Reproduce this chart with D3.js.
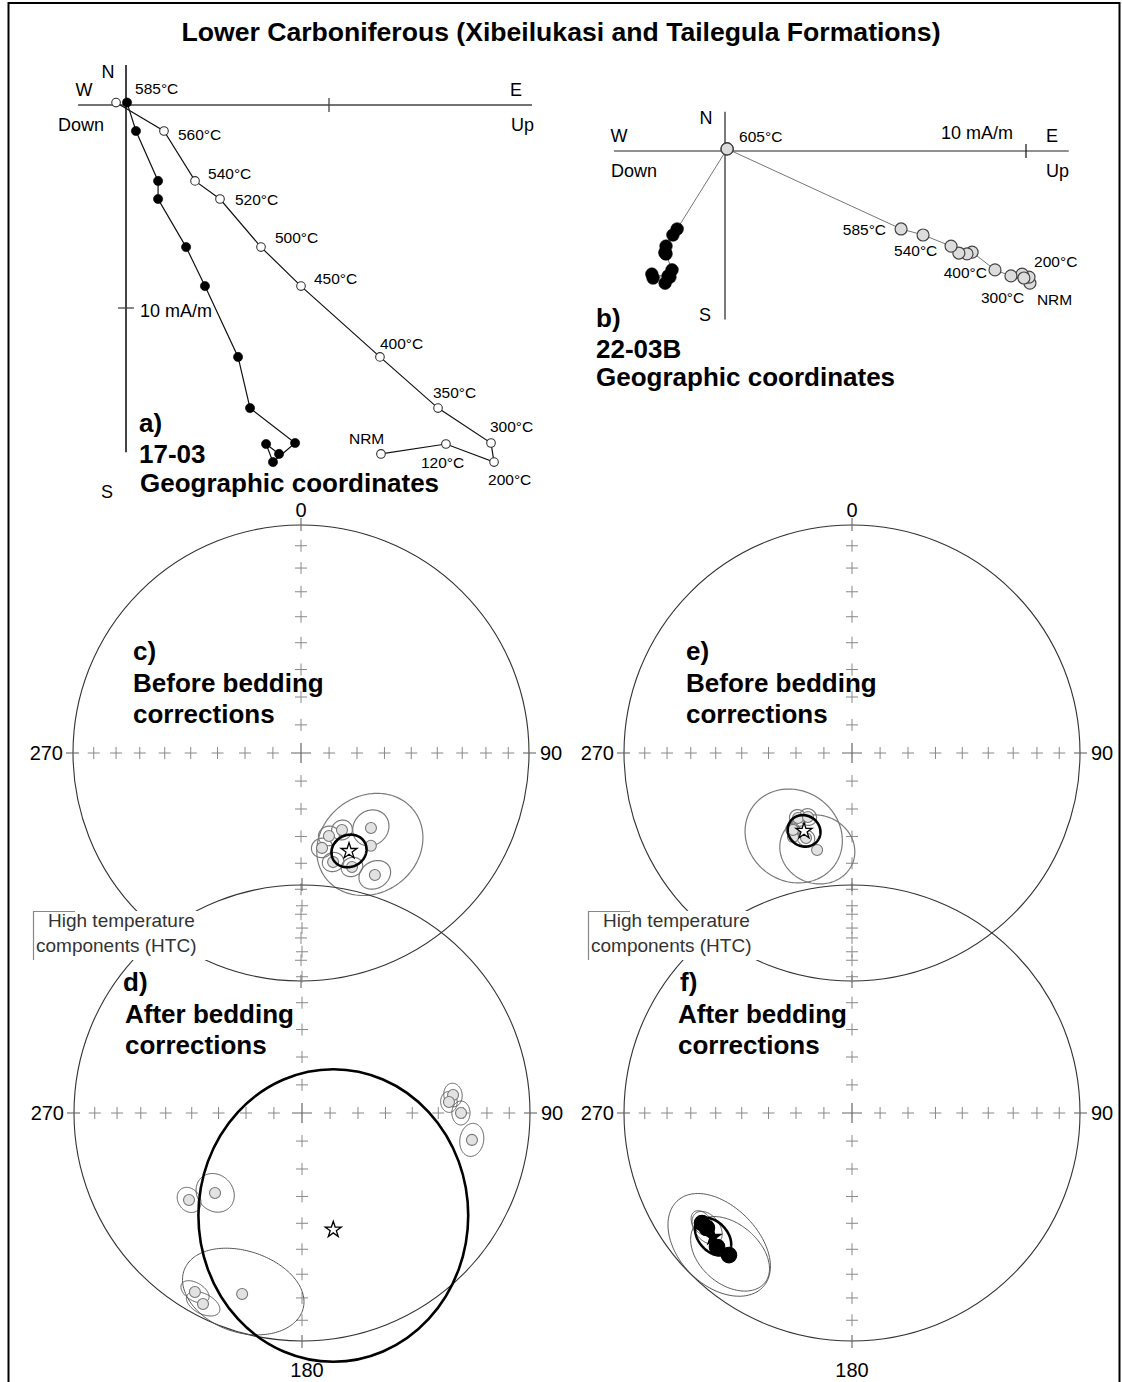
<!DOCTYPE html>
<html><head><meta charset="utf-8">
<script src="https://cdn.jsdelivr.net/npm/d3@7/dist/d3.min.js"></script>
<style>html,body{margin:0;padding:0;background:#fff}svg{display:block}</style>
</head><body>
<svg id="fig" width="1122" height="1382" xmlns="http://www.w3.org/2000/svg"></svg>
<script>
// ================= DATA =================
const titleText = "Lower Carboniferous (Xibeilukasi and Tailegula Formations)";

// Panel a: sample 17-03, thermal demagnetisation (mA/m)
const aSteps = ["NRM","120°C","200°C","300°C","350°C","400°C","450°C","500°C","520°C","540°C","560°C","585°C"];
const aNorth = [-17.19,-16.70,-17.59,-16.65,-14.93,-12.41,-8.92,-7.00,-4.63,-3.74,-1.28,0.12];
const aEast  = [7.54,6.90,7.24,8.33,6.11,5.52,3.89,2.96,1.58,1.58,0.49,0.05];
const aUp    = [12.56,15.76,18.13,17.98,15.37,12.51,8.62,6.65,4.63,3.40,1.87,-0.49];

// Panel b: sample 22-03B (mA/m)
const bSteps  = ["NRM","120°C","200°C","250°C","300°C","400°C","450°C","480°C","500°C","520°C","540°C","585°C","605°C"];
const bLabels = ["NRM","","200°C","","300°C","400°C","","","","","540°C","585°C","605°C"];
const bNorth = [-4.39,-4.19,-4.09,-4.22,-4.15,-3.95,-3.36,-3.42,-3.39,-3.16,-2.79,-2.59,0.07];
const bEast  = [-1.99,-1.83,-2.43,-2.39,-1.89,-1.76,-1.99,-1.96,-1.99,-1.96,-1.73,-1.59,0.07];
const bUp    = [10.13,10.10,9.87,9.93,9.50,8.97,8.21,8.04,7.77,7.51,6.58,5.85,0.07];

// Stereonets: site-mean directions (Dec, Inc) and alpha95 (negative Inc = upper hemisphere, open symbol)
const cDec = [137.0,148.8,161.4,152.0,167.5,163.6,155.9,143.0];
const cInc = [-52.9,-37.5,-58.5,-58.6,-54.9,-48.7,-44.4,-47.8];
const cA95 = [6.4,5.3,3.6,3.6,3.6,3.6,3.6,18.5];
const cMean = [153.9,-50.4,6.0];          // Dec, Inc, a95

const dDec = [83.2,85.7,90.0,99.0,232.4,227.4,198.3,210.9,207.4];
const dInc = [-33.7,-35.6,-30.9,-25.5,-37.5,-47.0,-17.5,-9.4,-6.3];
const dA95 = [3.7,3.3,3.7,5.0,4.3,6.8,18.0,4.2,4.8];
const dMean = [165.0,-46.0,45.0,59.0];    // Dec, Inc, cone semi-axes (across, along meridian)

const eDec = [215.1,199.8,219.7,214.5,217.5,208.4];
const eInc = [-52.9,-52.7,-59.6,-62.1,-55.0,-55.1];
const eA95 = [17.0,12.8,3.0,3.0,2.5,3.0];
const eMean = [211.6,-57.0,5.7];

const fDec = [233.7,231.6,225.2,220.9];
const fInc = [19.5,19.9,17.7,18.7];
const fA95 = [4.0,5.4,17.5,13.1];
const fMean = [228.3,19.4,6.3];

const netTickIncs = [10,20,30,40,50,60,70,80];
const netTickDecs = [0,90,180,270];

// ================= LAYOUT / STYLE =================
const FONT = "'Liberation Sans', Arial, Helvetica, sans-serif";
const svg = d3.select("#fig").attr("font-family", FONT);
svg.append("rect").attr("width",1122).attr("height",1382).attr("fill","#fff");

svg.append("path").attr("d","M8.5,1382 L8.5,3 L1119.5,3 L1119.5,1382").attr("fill","none").attr("stroke","#000").attr("stroke-width",2);

svg.append("text").attr("x",561).attr("y",41).attr("text-anchor","middle")
  .attr("font-weight","bold").attr("font-size",26.6).text(titleText);

function txt(g, x, y, s, size, opt={}) {
  return g.append("text").attr("x",x).attr("y",y).attr("font-size",size)
    .attr("text-anchor",opt.anchor||"start").attr("font-weight",opt.bold?"bold":"normal")
    .attr("fill",opt.fill||"#000").text(s);
}

// ---------- Zijderveld diagrams ----------
function zijderveld(cfg, north, east, up, labels, offs) {
  const g = svg.append("g");
  const x = d3.scaleLinear().domain([0,10]).range([cfg.ox, cfg.ox + cfg.px10]);
  const y = d3.scaleLinear().domain([0,-10]).range([cfg.oy, cfg.oy + cfg.px10]);
  g.append("line").attr("x1",x(cfg.xExt[0])).attr("x2",x(cfg.xExt[1])).attr("y1",y(0)).attr("y2",y(0))
    .attr("stroke",cfg.axisColor).attr("stroke-width",cfg.hAxisW);
  g.append("line").attr("x1",x(0)).attr("x2",x(0)).attr("y1",y(cfg.yExt[0])).attr("y2",y(cfg.yExt[1]))
    .attr("stroke",cfg.axisColor).attr("stroke-width",cfg.vAxisW);
  cfg.xTicks.forEach(v => g.append("line").attr("x1",x(v)).attr("x2",x(v)).attr("y1",y(0)-7).attr("y2",y(0)+7)
    .attr("stroke",cfg.axisColor).attr("stroke-width",1.3));
  cfg.yTicks.forEach(v => g.append("line").attr("x1",x(0)-8).attr("x2",x(0)+8).attr("y1",y(v)).attr("y2",y(v))
    .attr("stroke",cfg.axisColor).attr("stroke-width",1.3));
  const idx = d3.range(north.length);
  const lineH = d3.line().x(i=>x(east[i])).y(i=>y(north[i]));
  const lineV = d3.line().x(i=>x(up[i])).y(i=>y(north[i]));
  g.append("path").attr("d",lineH(idx)).attr("fill","none").attr("stroke",cfg.lineColor).attr("stroke-width",cfg.lineW);
  g.append("path").attr("d",lineV(idx)).attr("fill","none").attr("stroke",cfg.lineColor).attr("stroke-width",cfg.lineW);
  idx.forEach(i => g.append("circle").attr("cx",x(east[i])).attr("cy",y(north[i])).attr("r",cfg.rFill)
    .attr("fill","#000").attr("stroke","#000").attr("stroke-width",0.6));
  idx.forEach(i => g.append("circle").attr("cx",x(up[i])).attr("cy",y(north[i])).attr("r",cfg.rOpen)
    .attr("fill",cfg.openFill).attr("stroke",cfg.openStroke).attr("stroke-width",cfg.openW));
  idx.forEach(i => {
    if (!labels[i] || !offs[i]) return;
    txt(g, x(up[i])+offs[i][0], y(north[i])+offs[i][1]+cfg.fs*0.36, labels[i], cfg.fs, {anchor:offs[i][2]||"start"});
  });
  return g;
}

// label offsets (px) relative to the open (vertical-projection) symbol
const aLabelOffsets = [[-32,-16],[-25,18],[-6,17],[-1,-17],[-5,-16],[0,-14],[13,-8],[14,-10],[15,0],[13,-8],[14,3],[19,-14]];
const bLabelOffsets = [[7,16],null,[12,-13],null,[-30,22],[-8,3,"end"],null,null,null,null,[-29,15],[-15,0,"end"],[12,-12]];

const ga = zijderveld({ox:126, oy:105, px10:203, xExt:[-2.36,20.0], yExt:[1.97,-17.1], xTicks:[10], yTicks:[-10],
  axisColor:"#444", hAxisW:1.5, vAxisW:2, lineColor:"#111", lineW:1.2, rOpen:4.3, rFill:4.6,
  openFill:"#fff", openStroke:"#333", openW:1.1, fs:15.5}, aNorth, aEast, aUp, aSteps, aLabelOffsets);
txt(ga,108,78,"N",18,{anchor:"middle"});
txt(ga,84,96,"W",18,{anchor:"middle"});
txt(ga,516,96,"E",18,{anchor:"middle"});
txt(ga,58,131,"Down",18);
txt(ga,511,131,"Up",18);
txt(ga,107,498,"S",18,{anchor:"middle"});
txt(ga,140,317,"10 mA/m",18);
txt(ga,139,432,"a)",26,{bold:true});
txt(ga,139,463,"17-03",26,{bold:true});
txt(ga,140,492,"Geographic coordinates",26,{bold:true});

const gb = zijderveld({ox:725, oy:151, px10:301, xExt:[-3.69,11.42], yExt:[1.3,-5.6], xTicks:[10], yTicks:[],
  axisColor:"#222", hAxisW:1.2, vAxisW:1.2, lineColor:"#666", lineW:0.9, rOpen:6, rFill:6.3,
  openFill:"#dcdcdc", openStroke:"#444", openW:1.2, fs:15.5}, bNorth, bEast, bUp, bLabels, bLabelOffsets);
txt(gb,706,124,"N",18,{anchor:"middle"});
txt(gb,619,142,"W",18,{anchor:"middle"});
txt(gb,1052,142,"E",18,{anchor:"middle"});
txt(gb,611,177,"Down",18);
txt(gb,1046,177,"Up",18);
txt(gb,705,321,"S",18,{anchor:"middle"});
txt(gb,941,139,"10 mA/m",18);
txt(gb,596,327,"b)",26,{bold:true});
txt(gb,596,358,"22-03B",26,{bold:true});
txt(gb,596,386,"Geographic coordinates",26,{bold:true});

// ---------- Equal-area stereonets ----------
const R = 228;
const rad = Math.PI/180;
// cone of confidence as a ring of [lon,lat] points: semi-axes `across` (perpendicular to meridian) and `along`
function coneRing(lon0, lat0, across, along) {
  const ring = [];
  const p0 = lat0*rad, l0 = lon0*rad;
  for (let k = 0; k <= 180; k++) {
    const t = 2*Math.PI*k/180;
    const e = across*Math.cos(t), n = along*Math.sin(t);
    const dist = Math.sqrt(e*e+n*n)*rad, brg = Math.atan2(e, n);
    const p2 = Math.asin(Math.sin(p0)*Math.cos(dist) + Math.cos(p0)*Math.sin(dist)*Math.cos(brg));
    const l2 = l0 + Math.atan2(Math.sin(brg)*Math.sin(dist)*Math.cos(p0), Math.cos(dist) - Math.sin(p0)*Math.sin(p2));
    ring.push([l2/rad, p2/rad]);
  }
  return {type:"LineString", coordinates:ring};
}
function stereonet(cfg, dec, inc, a95, mean, st) {
  const g = svg.append("g");
  const proj = d3.geoAzimuthalEqualArea().rotate([0,-90]).scale(R/Math.SQRT2)
    .translate([cfg.cx, cfg.cy]).precision(0.1);
  const path = d3.geoPath(proj);
  const ll = (d,i) => [180 - d, Math.abs(i)];
  g.append("circle").attr("cx",cfg.cx).attr("cy",cfg.cy).attr("r",R).attr("fill","none")
    .attr("stroke","#333").attr("stroke-width",1.1);
  netTickDecs.forEach(d => netTickIncs.forEach(i => {
    const p = proj(ll(d,i));
    g.append("path").attr("d",`M${p[0]-6},${p[1]}h12M${p[0]},${p[1]-6}v12`)
      .attr("stroke","#888").attr("stroke-width",1).attr("fill","none");
  }));
  const c0 = proj(ll(0,90));
  g.append("path").attr("d",`M${c0[0]-10},${c0[1]}h20M${c0[0]},${c0[1]-10}v20`)
    .attr("stroke","#666").attr("stroke-width",1.2);
  netTickDecs.forEach(d => {
    const a = proj(ll(d,0)); const dx=(a[0]-cfg.cx)/R, dy=(a[1]-cfg.cy)/R;
    g.append("line").attr("x1",a[0]-dx*6).attr("y1",a[1]-dy*6).attr("x2",a[0]+dx*7).attr("y2",a[1]+dy*7)
      .attr("stroke","#666").attr("stroke-width",1.1);
  });
  dec.forEach((d,i) => {
    const c = ll(d,inc[i]);
    g.append("path").attr("d",path(coneRing(c[0],c[1],a95[i],a95[i]))).attr("fill","none")
      .attr("stroke",st.coneColor).attr("stroke-width",st.coneW);
  });
  dec.forEach((d,i) => {
    const p = proj(ll(d,inc[i]));
    const upper = inc[i] < 0;
    g.append("circle").attr("cx",p[0]).attr("cy",p[1]).attr("r",upper?st.rOpen:st.rFill)
      .attr("fill",upper?"#e2e2e2":"#000").attr("stroke",upper?"#777":"#000").attr("stroke-width",1.1);
  });
  const mc = ll(mean[0],mean[1]);
  const ring = coneRing(mc[0],mc[1],mean[2],mean.length>3?mean[3]:mean[2]);
  if (st.screenEllipse) {
    // very large cone: drawn as the screen ellipse spanning the projected cone
    const pts = ring.coordinates.map(c => proj(c));
    const xe = d3.extent(pts, p=>p[0]), ye = d3.extent(pts, p=>p[1]);
    g.append("ellipse").attr("cx",(xe[0]+xe[1])/2).attr("cy",(ye[0]+ye[1])/2)
      .attr("rx",(xe[1]-xe[0])/2).attr("ry",(ye[1]-ye[0])/2)
      .attr("fill","none").attr("stroke","#000").attr("stroke-width",st.meanW);
  } else {
    g.append("path").attr("d",path(ring)).attr("fill","none").attr("stroke","#000").attr("stroke-width",st.meanW);
  }
  const mp = proj(mc);
  g.append("path").attr("d",d3.symbol().type(d3.symbolStar).size(st.starSize)())
    .attr("transform",`translate(${mp[0]},${mp[1]})`)
    .attr("fill",mean[1]<0?"#fff":"#000").attr("stroke","#000").attr("stroke-width",1.3);
  if (cfg.top) txt(g,cfg.cx,cfg.cy-R-8,cfg.top,20,{anchor:"middle"});
  if (cfg.bottom) txt(g,cfg.cx+cfg.bdx,cfg.cy+R+36,cfg.bottom,20,{anchor:"middle"});
  txt(g,cfg.cx-R-10,cfg.cy+7,"270",20,{anchor:"end"});
  txt(g,cfg.cx+R+11,cfg.cy+7,"90",20);
  return g;
}

const stGray = {coneColor:"#7a7a7a", coneW:1.2, rOpen:5.5, rFill:7.5, meanW:2.6, starSize:80};
const stD    = {coneColor:"#555", coneW:1.0, rOpen:5.5, rFill:7.5, meanW:2.6, starSize:80, screenEllipse:true};
const stF    = {coneColor:"#444", coneW:0.9, rOpen:5.5, rFill:7.8, meanW:2.6, starSize:80};

stereonet({cx:301, cy:753, top:"0"}, cDec, cInc, cA95, cMean, stGray);
stereonet({cx:852, cy:753, top:"0"}, eDec, eInc, eA95, eMean, stGray);
stereonet({cx:302, cy:1113, bottom:"180", bdx:5}, dDec, dInc, dA95, dMean, stD);
stereonet({cx:852, cy:1113, bottom:"180", bdx:0}, fDec, fInc, fA95, fMean, stF);

function legend(x0) {
  const g = svg.append("g");
  g.append("rect").attr("x",x0).attr("y",911).attr("width",185).attr("height",49).attr("fill","#fff");
  g.append("path").attr("d",`M${x0+42},911.5H${x0+0.5}V960`).attr("fill","none").attr("stroke","#888").attr("stroke-width",1.2);
  txt(g,x0+15,927,"High temperature",19,{fill:"#333"});
  txt(g,x0+3,952,"components (HTC)",19,{fill:"#333"});
}
legend(33);
legend(588);

function plabel(x, y0, lines) {
  lines.forEach((s,i) => txt(svg, x[i], y0 + i*31.5, s, 26, {bold:true}));
}
plabel([133,133,133], 660, ["c)","Before bedding","corrections"]);
plabel([686,686,686], 660, ["e)","Before bedding","corrections"]);
plabel([123,125,125], 991, ["d)","After bedding","corrections"]);
plabel([680,678,678], 991, ["f)","After bedding","corrections"]);
</script>
</body></html>
